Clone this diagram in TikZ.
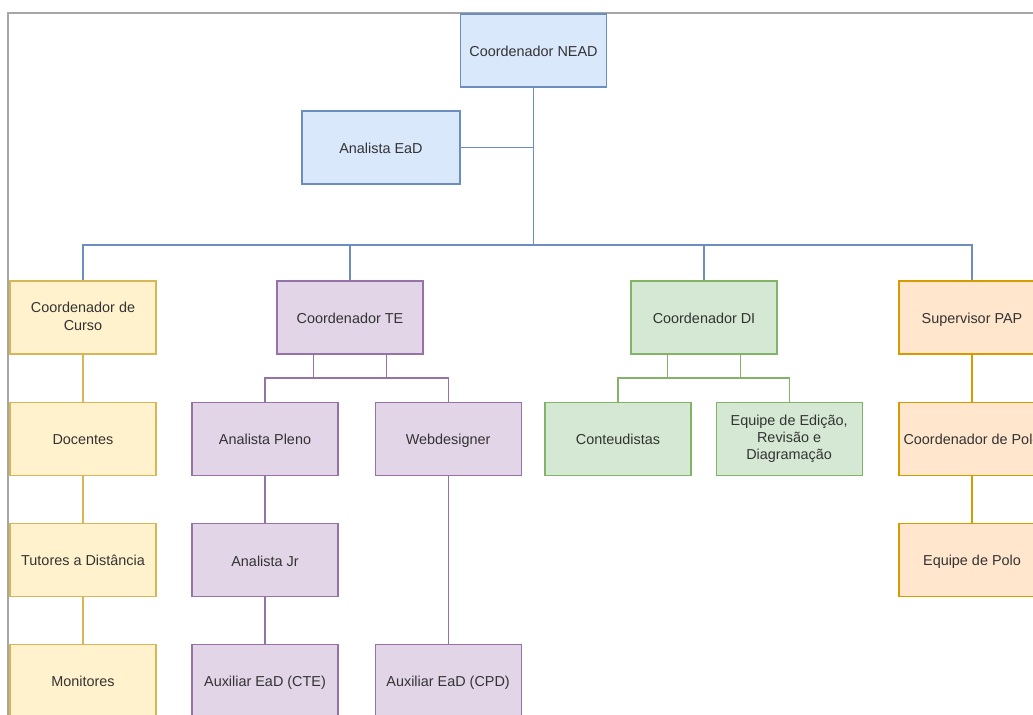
\documentclass[tikz,border=0pt]{standalone}
\usepackage{fontspec}
\setmainfont{Liberation Sans}
\usepackage{tikz}
\usetikzlibrary{positioning}
\definecolor{neadblue}{HTML}{DAE8FC}
\definecolor{neadbluedraw}{HTML}{6C8EBF}
\definecolor{cursoyellow}{HTML}{FFF2CC}
\definecolor{cursoyellowdraw}{HTML}{D6B656}
\definecolor{tepurple}{HTML}{E1D5E7}
\definecolor{tepurpledraw}{HTML}{9673A6}
\definecolor{digreen}{HTML}{D5E8D4}
\definecolor{digreendraw}{HTML}{82B366}
\definecolor{paporange}{HTML}{FFE6CC}
\definecolor{paporangedraw}{HTML}{D79B00}
\definecolor{framegray}{HTML}{A6A6A6}
\newcommand{\boxstrut}{\rule[-1.5pt]{0pt}{9.7pt}}
\tikzset{
    box/.style={rectangle, draw, text centered, align=center, minimum width=2.92cm,
                minimum height=1.46cm, inner sep=1pt, line width=0.65pt,
                font=\fontsize{8.2}{9.8}\selectfont, text=black!80,
                execute at begin node=\boxstrut, execute at end node=\boxstrut},
    bluebox/.style={box, draw=neadbluedraw, fill=neadblue},
    yellowbox/.style={box, draw=cursoyellowdraw, fill=cursoyellow},
    purplebox/.style={box, draw=tepurpledraw, fill=tepurple},
    greenbox/.style={box, draw=digreendraw, fill=digreen},
    orangebox/.style={box, draw=paporangedraw, fill=paporange},
    link/.style={line width=0.65pt},
    bluelink/.style={link, draw=neadbluedraw},
    yellowlink/.style={link, draw=cursoyellowdraw},
    purplelink/.style={link, draw=tepurpledraw},
    greenlink/.style={link, draw=digreendraw},
    orangelink/.style={link, draw=paporangedraw}
}
\begin{document}
\begin{tikzpicture}[x=0.02cm, y=-0.02cm, node distance=0.94cm]
    \useasboundingbox (0,0) rectangle (1033,715);
    \clip (0,0) rectangle (1033,715);
    \draw[framegray, line width=1pt] (8,715) |- (1033,13);

    % top
    \node[bluebox] (nead) at (533.5,50.5) {Coordenador NEAD};
    \node[bluebox, minimum width=3.16cm] (analista) at (381,147.5) {Analista EaD};
    \coordinate (bar) at (533.5,245);

    % coordinations
    \node[yellowbox] (curso) at (83,317.5) {Coordenador de\\Curso};
    \node[purplebox] (te) at (350,317.5) {Coordenador TE};
    \node[greenbox] (di) at (704,317.5) {Coordenador DI};
    \node[orangebox] (pap) at (972,317.5) {Supervisor PAP};

    % curso
    \node[yellowbox, below=of curso] (docentes) {Docentes};
    \node[yellowbox, below=of docentes] (tutores) {Tutores a Distância};
    \node[yellowbox, below=of tutores] (monitores) {Monitores};

    % TE
    \node[purplebox] (pleno) at (265,439) {Analista Pleno};
    \node[purplebox, right=0.72cm of pleno] (web) {Webdesigner};
    \node[purplebox, below=of pleno] (jr) {Analista Jr};
    \node[purplebox, below=of jr] (auxcte) {Auxiliar EaD (CTE)};
    \node[purplebox] (auxcpd) at (auxcte -| web) {Auxiliar EaD (CPD)};
    \coordinate (tesplit) at (350,378);

    % DI
    \node[greenbox] (cont) at (618,439) {Conteudistas};
    \node[greenbox, right=0.48cm of cont] (edicao) {Equipe de Edição,\\Revisão e\\Diagramação};
    \coordinate (displit) at (704,378);

    % PAP
    \node[orangebox, below=of pap] (coordpolo) {Coordenador de Polo};
    \node[orangebox, below=of coordpolo] (polo) {Equipe de Polo};

    \draw[bluelink] (nead) -- (bar);
    \draw[bluelink] (analista) -- (analista -| bar);
    \draw[bluelink] (bar) -| (curso);
    \draw[bluelink] (bar) -| (te);
    \draw[bluelink] (bar) -| (di);
    \draw[bluelink] (bar) -| (pap);

    \draw[yellowlink] (curso) -- (docentes);
    \draw[yellowlink] (docentes) -- (tutores);
    \draw[yellowlink] (tutores) -- (monitores);

    \foreach \dx in {-0.73,0.73}
        \draw[purplelink] ([xshift=\dx cm]te.south) -- ([xshift=\dx cm]te.south |- tesplit);
    \draw[purplelink] (pleno) |- (tesplit) -| (web);
    \draw[purplelink] (pleno) -- (jr);
    \draw[purplelink] (jr) -- (auxcte);
    \draw[purplelink] (web) -- (auxcpd);

    \foreach \dx in {-0.73,0.73}
        \draw[greenlink] ([xshift=\dx cm]di.south) -- ([xshift=\dx cm]di.south |- displit);
    \draw[greenlink] (cont) |- (displit) -| (edicao);

    \draw[orangelink] (pap) -- (coordpolo);
    \draw[orangelink] (coordpolo) -- (polo);
\end{tikzpicture}
\end{document}
